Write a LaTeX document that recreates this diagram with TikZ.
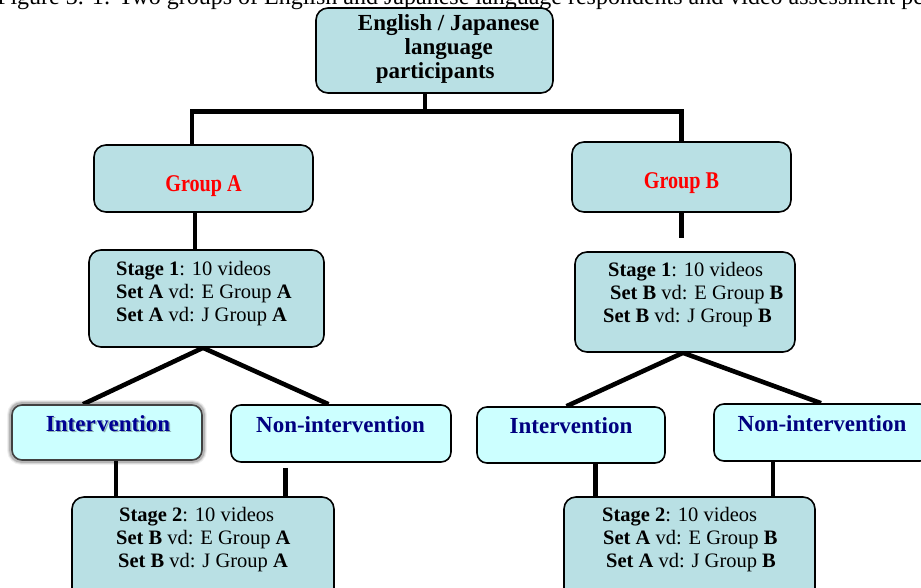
\documentclass[tikz,border=0pt]{standalone}
\usepackage{fontspec}
\setmainfont{Liberation Serif}
\pgfdeclarelayer{background}
\pgfsetlayers{background,main}
\definecolor{boxteal}{RGB}{185,224,228}
\definecolor{boxcyan}{RGB}{204,255,255}
\definecolor{navytxt}{RGB}{0,0,128}
\definecolor{grpred}{RGB}{255,0,0}
\tikzset{
  tealbox/.style={draw=black, line width=1.6pt, rounded corners=12pt, fill=boxteal, inner sep=0pt},
  cyanbox/.style={draw=black, line width=1.6pt, rounded corners=10pt, fill=boxcyan, inner sep=0pt},
  link/.style={line width=4.6pt, line join=miter},
  headtxt/.style={font=\bfseries\fontsize{23}{24}\selectfont, align=left, inner sep=0pt},
  grptxt/.style={font=\bfseries\fontsize{24}{26}\selectfont, text=grpred, inner sep=0pt, xscale=0.84},
  armtxt/.style={font=\bfseries\fontsize{23}{25}\selectfont, text=navytxt, inner sep=0pt},
  bodytxt/.style={font=\fontsize{20.5}{23}\selectfont, align=left, inner sep=0pt},
  captxt/.style={font=\fontsize{24}{28}\selectfont, inner sep=0pt},
}
\begin{document}
\begin{tikzpicture}[x=1pt,y=-1pt]
\useasboundingbox (0,0) rectangle (921,588);
\clip (0,0) rectangle (921,588);

% caption line, running off the top edge
\node[captxt, anchor=base west] (caption) at (-3,5)
  {Figure 3. 1: Two groups of English and Japanese language respondents and video assessment periods};

% boxes
\node[tealbox, minimum width=237pt, minimum height=85pt] (top) at (434.5,50.5) {};
\node[tealbox, minimum width=219pt, minimum height=67pt] (ga) at (203.5,178.5) {};
\node[tealbox, minimum width=219pt, minimum height=70pt] (gb) at (681.5,177) {};
\node[tealbox, minimum width=235pt, minimum height=97pt] (s1a) at (206.5,298.5) {};
\node[tealbox, minimum width=220pt, minimum height=100pt] (s1b) at (685,302) {};
\node[cyanbox, draw=black!75, minimum width=190pt, minimum height=55pt] (ia) at (107,432.5) {};
\node[cyanbox, minimum width=220pt, minimum height=57pt] (nia) at (341,433.5) {};
\node[cyanbox, minimum width=188pt, minimum height=56pt] (ib) at (571,435) {};
\node[cyanbox, minimum width=216pt, minimum height=57pt] (nib) at (822,432.5) {};
\node[tealbox, minimum width=262pt, minimum height=113pt] (s2a) at (203,553.5) {};
\node[tealbox, minimum width=251pt, minimum height=113pt] (s2b) at (689.5,553.5) {};

\begin{pgfonlayer}{background}
  % soft shadow round the left intervention box
  \foreach \w/\o in {8/0.06,6/0.10,4/0.16}
    \draw[line width=\w pt, black, opacity=\o, rounded corners=10pt]
      (ia.north west) rectangle (ia.south east);

  % tree connectors
  \draw[link] ([xshift=-9.5pt]top.south) -- ++(0,18) coordinate (hub);
  \draw[link] ([xshift=-11.5pt]ga.north) |- (hub) -| (gb.north);
  \draw[link] ([xshift=-8.5pt]ga.south) -- ([xshift=-8.5pt]ga.south |- s1a.north);
  \draw[link] (gb.south) -- ++(0,25) coordinate (gbstub);

  \draw[link] ([xshift=-3.5pt]s1a.south) -- ([xshift=-24pt]ia.north);
  \draw[link] ([xshift=-3.5pt]s1a.south) -- ([xshift=-12.5pt]nia.north);
  \draw[link] ([xshift=-2pt]s1b.south) -- ([xshift=-4.5pt]ib.north);
  \draw[link] ([xshift=-2pt]s1b.south) -- ([xshift=-1pt]nib.north);

  \draw[link] ([xshift=9pt]ia.south) -- ([xshift=9pt]ia.south |- s2a.north);
  \draw[link] ([xshift=-55.5pt,yshift=-5pt]nia.south) -- ([xshift=-55.5pt]nia.south |- s2a.north);
  \draw[link] ([xshift=24.5pt]ib.south) -- ([xshift=24.5pt]ib.south |- s2b.north);
  \draw[link] ([xshift=-49pt]nib.south) -- ([xshift=-49pt]nib.south |- s2b.north);
\end{pgfonlayer}

% texts
\node[headtxt, anchor=west] (toptxt) at (357.75,50.2)
  {\strut English / Japanese\\\hspace*{46.75pt}\strut language\\\hspace*{17.85pt}\strut participants};

\node[grptxt, anchor=base] (gatxt) at (203.5,192) {Group A};
\node[grptxt, anchor=base] (gbtxt) at (681.5,189) {Group B};

\node[bodytxt, anchor=west] (s1atxt) at (116,293.4)
  {\strut\textbf{Stage 1}: 10 videos\\\strut\textbf{Set A} vd: E Group \textbf{A}\\\strut\textbf{Set A} vd: J Group \textbf{A}};
\node[bodytxt, anchor=west] (s1btxt) at (603,294.4)
  {\hspace*{5pt}\strut\textbf{Stage 1}: 10 videos\\\hspace*{7pt}\strut\textbf{Set B} vd: E Group \textbf{B}\\\strut\textbf{Set B} vd: J Group \textbf{B}};

\node[armtxt, text=black, opacity=0.3, anchor=base] (iashadow) at (109.5,432.5) {Inter\kern1.5pt vention};
\node[armtxt, text=navytxt!85!blue, anchor=base] (iatxt) at (108,431) {Inter\kern1.5pt vention};
\node[armtxt, anchor=base] (niatxt) at (340.5,432) {Non-intervention};
\node[armtxt, anchor=base] (ibtxt) at (571,433) {Intervention};
\node[armtxt, anchor=base] (nibtxt) at (822,431) {Non-intervention};

\node[bodytxt, anchor=west] (s2atxt) at (116,539.4)
  {\hspace*{3pt}\strut\textbf{Stage 2}: 10 videos\\\strut\textbf{Set B} vd: E Group \textbf{A}\\\hspace*{2pt}\strut\textbf{Set B} vd: J Group \textbf{A}};
\node[bodytxt, anchor=west] (s2btxt) at (602,539.4)
  {\strut\textbf{Stage 2}: 10 videos\\\hspace*{1pt}\strut\textbf{Set A} vd: E Group \textbf{B}\\\hspace*{4pt}\strut\textbf{Set A} vd: J Group \textbf{B}};
\end{tikzpicture}
\end{document}
